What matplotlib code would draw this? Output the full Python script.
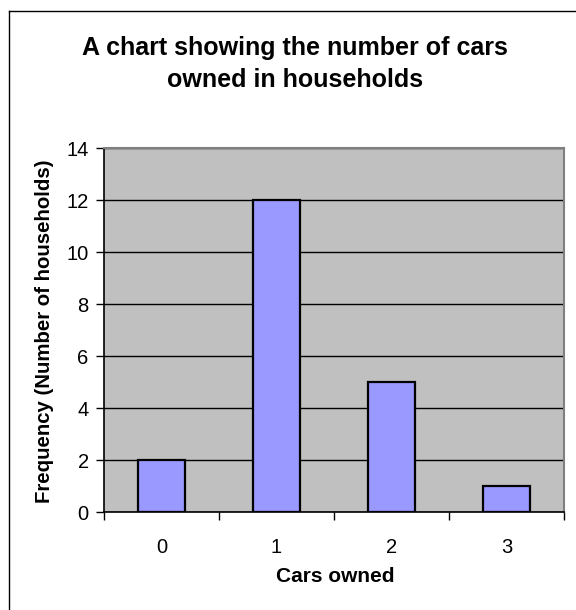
import matplotlib
matplotlib.use("Agg")
import matplotlib.pyplot as plt
from matplotlib.lines import Line2D

categories = ["0", "1", "2", "3"]
frequencies = [2, 12, 5, 1]
yticks = [0, 2, 4, 6, 8, 10, 12, 14]

plt.rcParams['font.family'] = ['Liberation Sans', 'DejaVu Sans']

fig = plt.figure(figsize=(5.76, 6.10), dpi=100)
W, H = 576, 610
ax = fig.add_axes([104 / W, 98 / H, 460 / W, 364 / H])
ax.set_facecolor("#C0C0C0")
ax.set_axisbelow(True)

x = list(range(len(categories)))
ax.bar(x, frequencies, width=0.41, color="#9999FF", edgecolor="black", linewidth=1.6, zorder=3)

ax.set_xlim(-0.5, len(categories) - 0.5)
ax.set_ylim(0, 14)
ax.set_yticks(yticks)
ax.set_yticklabels([str(v) for v in yticks])
ax.yaxis.grid(True, color="black", linewidth=1.0)

ax.set_xticks(x)
ax.set_xticklabels(categories)
ax.set_xticks([i - 0.5 for i in range(len(categories) + 1)], minor=True)
ax.tick_params(axis="x", which="major", length=0, pad=19, labelsize=14.5)
ax.tick_params(axis="x", which="minor", length=6, width=1, color="black", direction="out")
ax.tick_params(axis="y", length=6, width=1, pad=5, labelsize=14.5)

for s in ["left", "bottom"]:
    ax.spines[s].set_color("black")
    ax.spines[s].set_linewidth(1.2)
for s in ["top", "right"]:
    ax.spines[s].set_color("#808080")
    ax.spines[s].set_linewidth(1.5)

fig.text(295 / W, 1 - 64 / H, "A chart showing the number of cars\nowned in households",
         ha="center", va="center", fontsize=18, fontweight="bold", linespacing=1.45)
fig.text(45 / W, 1 - 331 / H, "Frequency (Number of households)", rotation=90,
         ha="center", va="center", fontsize=14.7, fontweight="bold")
fig.text(335 / W, 1 - 577 / H, "Cars owned", ha="center", va="center",
         fontsize=15, fontweight="bold")

# outer border (left and top)
fig.add_artist(Line2D([8.5 / W, 8.5 / W], [0, 1 - 11 / H], transform=fig.transFigure,
                      color="black", linewidth=1))
fig.add_artist(Line2D([8.5 / W, 1], [1 - 11 / H, 1 - 11 / H], transform=fig.transFigure,
                      color="black", linewidth=1))

fig.savefig("out.png", dpi=100)
